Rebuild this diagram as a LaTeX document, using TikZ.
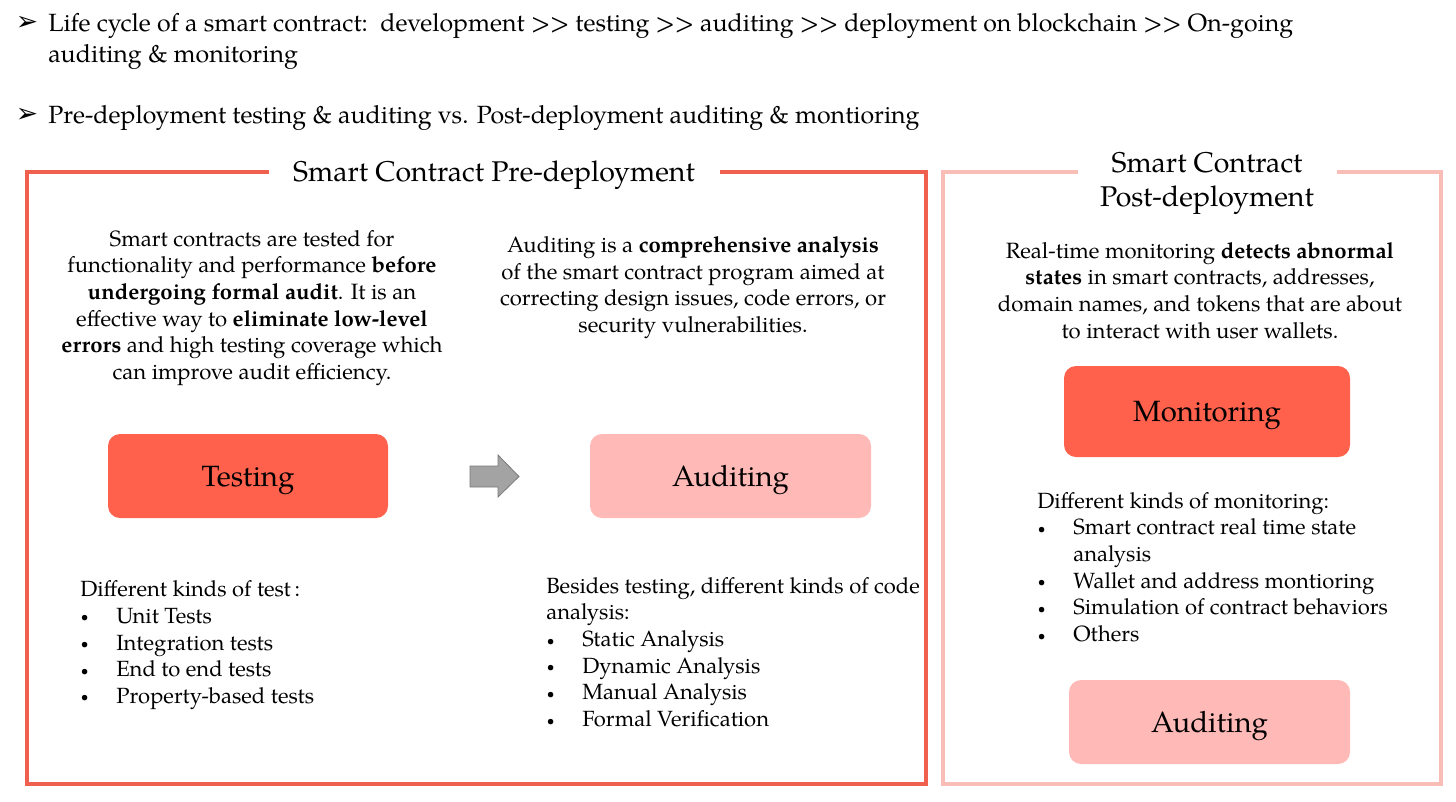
\documentclass[tikz,border=0pt]{standalone}
\usepackage{fontspec}
\setmainfont{TeX Gyre Pagella}
\newfontfamily\symfont{DejaVu Sans}
\definecolor{tomatofill}{HTML}{FF614D}
\definecolor{pinkfill}{HTML}{FFB9B7}
\definecolor{frameL}{HTML}{F0604E}
\definecolor{frameR}{HTML}{F9BDB8}
\definecolor{arrowgray}{HTML}{A3A3A3}
\definecolor{arrowedge}{HTML}{7A7A7A}
\newcommand\bul{\makebox[27pt][l]{\hspace*{0.5pt}\raisebox{1.2pt}{\scalebox{0.62}{\textbullet}}}}
\tikzset{
  hdr/.style={font=\fontsize{18.7}{23.3}\selectfont, align=left, inner sep=0pt},
  ttl/.style={font=\fontsize{21.4}{25.5}\selectfont, align=center, inner sep=0pt},
  body/.style={font=\fontsize{16.6}{20}\selectfont, align=center, inner sep=0pt},
  lst/.style={font=\fontsize{16.5}{20}\selectfont, align=left, inner sep=0pt, anchor=north west},
  boxdark/.style={fill=tomatofill, rounded corners=9pt, inner sep=0pt, font=\fontsize{22}{26}\selectfont},
  boxlight/.style={fill=pinkfill, rounded corners=9pt, inner sep=0pt, font=\fontsize{22}{26}\selectfont},
  frameleft/.style={draw=frameL, line width=2.3pt},
  frameright/.style={draw=frameR, line width=2.3pt},
  blockarrow/.style={fill=arrowgray, draw=arrowedge, line width=0.6pt, line join=miter}
}
\newcommand\lowr[1]{\raisebox{-7.8pt}[0pt][0pt]{#1}}
\begin{document}
\begin{tikzpicture}[x=0.75pt,y=-0.75pt]
\useasboundingbox (0,0) rectangle (1456,801);
% header bullets
\node[inner sep=0pt, font=\symfont\fontsize{20}{20}\selectfont] (b1) at (27,23) {➢};
\node[inner sep=0pt, font=\symfont\fontsize{20}{20}\selectfont] (b2) at (27,115) {➢};
\node[hdr, anchor=west] (h1) at (48,41) {Life cycle of a smart contract:\ \ development >{}> testing >{}> auditing >{}> deployment on blockchain >{}> On-going\\ auditing \& monitoring};
\node[hdr, anchor=west] (h2) at (48,117.5) {Pre-deployment testing \& auditing vs. Post-deployment auditing \& montioring};
% frames
\coordinate (lA) at (269,172);
\coordinate (lB) at (720,172);
\draw[frameleft] (lA) -- (27,172) -- (27,784) -- (926,784) -- (926,172) -- (lB);
\coordinate (rA) at (1078,172);
\coordinate (rB) at (1337,172);
\draw[frameright] (rA) -- (943,172) -- (943,784) -- (1441,784) -- (1441,172) -- (rB);
% titles
\node[ttl] (pretitle) at (494,175) {Smart Contract Pre-deployment};
\node[ttl] (posttitle) at (1207,183) {Smart Contract\\ Post-deployment};
% descriptions
\node[body] (tdesc) at (252,308) {Smart contracts are tested for\\ functionality and performance \textbf{before}\\ \textbf{undergoing formal audit}. It is an\\ effective way to \textbf{eliminate low-level}\\ \textbf{errors} and high testing coverage which\\ can improve audit efficiency.};
\node[body] (adesc) at (693,287.5) {Auditing is a \textbf{comprehensive analysis}\\ of the smart contract program aimed at\\ correcting design issues, code errors, or\\ security vulnerabilities.};
\node[body] (mdesc) at (1200,290.5) {Real-time monitoring \textbf{detects abnormal}\\ \textbf{states} in smart contracts, addresses,\\ domain names, and tokens that are about\\ to interact with user wallets.};
% boxes
\node[boxdark, minimum width=210pt, minimum height=63pt] (testing) at (248,476) {\lowr{Testing}};
\node[boxlight, minimum width=210.75pt, minimum height=63pt] (auditing) at (730.5,476) {\lowr{Auditing}};
\node[boxdark, minimum width=214.5pt, minimum height=68.25pt] (monitoring) at (1207,411.5) {\lowr{Monitoring}};
\node[boxlight, minimum width=210.75pt, minimum height=63pt] (auditing2) at (1209.5,722) {\lowr{Auditing}};
% block arrow
\draw[blockarrow] (470,466) -- (498,466) -- (498,455) -- (519,476.5) -- (498,497) -- (498,487) -- (470,487) -- cycle;
% lists
\node[lst] (tlist) at (80,580.5) {Different kinds of test\,:\\ \bul Unit Tests\\ \bul Integration tests\\ \bul End to end tests\\ \bul Property-based tests};
\node[lst] (alist) at (546,577) {Besides testing, different kinds of code\\ analysis:\\ \bul Static Analysis\\ \bul Dynamic Analysis\\ \bul Manual Analysis\\ \bul Formal Verification};
\node[lst] (mlist) at (1037,492) {Different kinds of monitoring:\\ \bul Smart contract real time state\\ \hspace*{27pt}analysis\\ \bul Wallet and address montioring\\ \bul Simulation of contract behaviors\\ \bul Others};
\end{tikzpicture}
\end{document}
